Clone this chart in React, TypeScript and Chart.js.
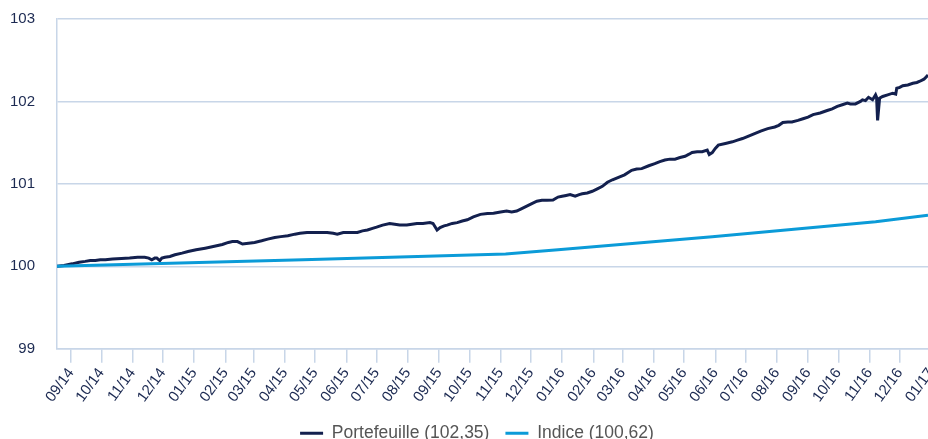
import React, { useEffect, useRef } from 'react';
import { Chart, registerables } from 'chart.js';

Chart.register(...registerables);

// Day 0 = 2014-08-18 (first observation)
const START_UTC = Date.UTC(2014, 7, 18);
const LAST_DAY = 864;

const monthLabels = [
  '09/14', '10/14', '11/14', '12/14', '01/15', '02/15', '03/15', '04/15', '05/15', '06/15',
  '07/15', '08/15', '09/15', '10/15', '11/15', '12/15', '01/16', '02/16', '03/16', '04/16',
  '05/16', '06/16', '07/16', '08/16', '09/16', '10/16', '11/16', '12/16', '01/17',
];

const yTickValues = [99, 100, 101, 102, 103];

const portfolioDays = [
  0, 7, 15, 22, 28, 33, 38, 43, 48, 55, 64, 72, 80, 87, 91, 94, 97, 99, 102, 104,
  107, 112, 117, 124, 130, 138, 147, 155, 164, 170, 174, 179, 184, 190, 196, 203, 209, 216, 222, 229,
  236, 241, 248, 255, 261, 268, 274, 278, 284, 291, 298, 303, 308, 313, 317, 323, 330, 335, 340, 347,
  352, 357, 363, 370, 373, 375, 377, 380, 384, 387, 392, 397, 402, 407, 413, 420, 427, 433, 440, 446,
  451, 456, 461, 466, 471, 476, 481, 486, 492, 497, 501, 505, 509, 514, 518, 521, 526, 531, 536, 541,
  546, 551, 557, 563, 570, 575, 580, 587, 593, 598, 603, 608, 613, 618, 623, 627, 630, 635, 640, 645,
  647, 650, 653, 656, 663, 670, 675, 680, 686, 692, 698, 705, 712, 716, 720, 725, 729, 735, 740, 745,
  750, 757, 764, 769, 774, 779, 784, 787, 792, 797, 799, 802, 805, 809, 812, 813, 814, 816, 819, 824,
  829, 832, 833, 836, 839, 844, 849, 853, 856, 860, 864,
];

const portfolioValues = [
  100.0, 100.01, 100.03, 100.05, 100.06, 100.07, 100.07, 100.08, 100.08, 100.09, 100.095, 100.1, 100.11, 100.11, 100.1, 100.08, 100.1, 100.1, 100.07, 100.1,
  100.11, 100.12, 100.14, 100.16, 100.18, 100.2, 100.22, 100.24, 100.265, 100.29, 100.3, 100.3, 100.27, 100.28, 100.29, 100.31, 100.33, 100.35, 100.36, 100.37,
  100.39, 100.4, 100.41, 100.41, 100.41, 100.41, 100.4, 100.39, 100.41, 100.41, 100.41, 100.43, 100.44, 100.46, 100.475, 100.5, 100.52, 100.51, 100.5, 100.5,
  100.51, 100.52, 100.52, 100.53, 100.52, 100.48, 100.44, 100.47, 100.49, 100.5, 100.52, 100.53, 100.55, 100.565, 100.6, 100.63, 100.64, 100.645, 100.66, 100.67,
  100.66, 100.67, 100.7, 100.73, 100.76, 100.79, 100.8, 100.8, 100.805, 100.84, 100.85, 100.86, 100.87, 100.85, 100.87, 100.88, 100.89, 100.91, 100.94, 100.97,
  101.02, 101.05, 101.08, 101.11, 101.165, 101.18, 101.185, 101.22, 101.245, 101.27, 101.29, 101.3, 101.3, 101.32, 101.335, 101.36, 101.38, 101.39, 101.39, 101.41,
  101.355, 101.38, 101.43, 101.47, 101.49, 101.51, 101.53, 101.55, 101.58, 101.61, 101.64, 101.67, 101.69, 101.71, 101.745, 101.75, 101.75, 101.77, 101.79, 101.81,
  101.84, 101.86, 101.89, 101.91, 101.94, 101.96, 101.98, 101.97, 101.97, 102.0, 102.02, 102.01, 102.05, 102.02, 102.08, 102.05, 101.77, 102.04, 102.06, 102.08,
  102.1, 102.09, 102.16, 102.17, 102.19, 102.2, 102.22, 102.23, 102.245, 102.27, 102.32,
];

const indexDays = [0, 244, 445, 497, 650, 812, 864];
const indexValues = [100.0, 100.08, 100.15, 100.2, 100.36, 100.54, 100.62];

const PORTFOLIO_LABEL = 'Portefeuille (102,35)';
const INDEX_LABEL = 'Indice (100,62)';

const NAVY = '#13204e';
const BLUE = '#0b9bd8';
const GRID = '#c8d6e8';
const TICK_TEXT = '#1c2a52';
const FONT = '"Liberation Sans", Arial, Helvetica, sans-serif';

function dayOfMonthLabel(label: string): number {
  const [mm, yy] = label.split('/');
  return (Date.UTC(2000 + Number(yy), Number(mm) - 1, 1) - START_UTC) / 86400000;
}

const legendShift = {
  id: 'legendShift',
  afterLayout(chart: any) {
    if (chart.legend) chart.legend.left = 26;
  },
};

export default function App() {
  const ref = useRef<HTMLCanvasElement | null>(null);

  useEffect(() => {
    document.body.style.margin = '0';
    const canvas = ref.current;
    if (!canvas) return;
    const chart = new Chart(canvas, {
      type: 'line',
      plugins: [legendShift],
      data: {
        datasets: [
          {
            label: PORTFOLIO_LABEL,
            data: portfolioDays.map((d, i) => ({ x: d, y: portfolioValues[i] })),
            borderColor: NAVY,
            backgroundColor: NAVY,
            borderWidth: 3,
            pointRadius: 0,
            tension: 0,
            order: 1,
          },
          {
            label: INDEX_LABEL,
            data: indexDays.map((d, i) => ({ x: d, y: indexValues[i] })),
            borderColor: BLUE,
            backgroundColor: BLUE,
            borderWidth: 3,
            pointRadius: 0,
            tension: 0,
            order: 0,
          },
        ],
      },
      options: {
        responsive: false,
        animation: false,
        events: [],
        layout: { padding: { left: 0, top: 19, right: 0, bottom: 0 } },
        plugins: {
          tooltip: { enabled: false },
          legend: {
            position: 'bottom',
            labels: {
              boxWidth: 23,
              boxHeight: 3,
              padding: 16,
              color: '#555555',
              font: { family: FONT, size: 17.5 },
              sort: (a: any, b: any) => a.datasetIndex - b.datasetIndex,
              generateLabels: (c: any) =>
                (Chart.defaults.plugins.legend.labels as any)
                  .generateLabels(c)
                  .map((l: any) => ({ ...l, lineWidth: 0 })),
            },
          },
        },
        scales: {
          x: {
            type: 'linear',
            min: 0,
            max: LAST_DAY,
            bounds: 'data',
            afterBuildTicks: (s: any) => {
              s.ticks = monthLabels.map((l) => ({ value: dayOfMonthLabel(l) }));
            },
            afterFit: (s: any) => {
              s.height = 59.75;
              s.paddingLeft = 0;
              s.paddingRight = 0;
            },
            ticks: {
              autoSkip: false,
              minRotation: 54,
              maxRotation: 54,
              padding: 2,
              color: TICK_TEXT,
              font: { family: FONT, size: 15 },
              callback: (_v: any, i: number) => monthLabels[i],
            },
            grid: {
              drawOnChartArea: false,
              drawTicks: true,
              tickLength: 14,
              color: GRID,
              lineWidth: 1.5,
            },
            border: { display: true, color: GRID, width: 1.5 },
          },
          y: {
            min: 99,
            max: 103,
            afterBuildTicks: (s: any) => {
              s.ticks = yTickValues.map((v) => ({ value: v }));
            },
            afterFit: (s: any) => {
              s.width = 57;
              s.paddingTop = 0;
              s.paddingBottom = 0;
            },
            ticks: {
              padding: 22,
              color: TICK_TEXT,
              font: { family: FONT, size: 15 },
              callback: (v: any) => String(v),
            },
            grid: { drawTicks: false, color: GRID, lineWidth: 1.5 },
            border: { display: true, color: GRID, width: 1.5 },
          },
        },
      } as any,
    });
    return () => chart.destroy();
  }, []);

  return (
    <div style={{ position: 'fixed', left: 0, top: 0, width: 928, height: 439, overflow: 'hidden' }}>
      <canvas ref={ref} width={928} height={452} style={{ display: 'block', width: 928, height: 452 }} />
    </div>
  );
}
